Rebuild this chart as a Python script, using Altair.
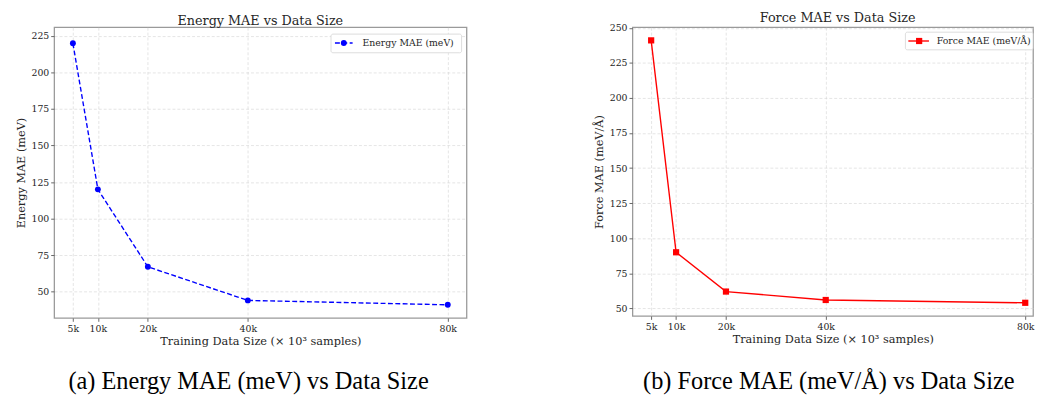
import altair as alt
import pandas as pd

# ---- data ----
sizes = [5, 10, 20, 40, 80]            # training data size (k samples)
energy_mae = [220, 120, 67, 44, 41]    # meV
force_mae = [241, 90, 62, 56, 54]      # meV/Å
x_ticks = [5, 10, 20, 40, 80]
energy_ticks = [50, 75, 100, 125, 150, 175, 200, 225]
force_ticks = [50, 75, 100, 125, 150, 175, 200, 225, 250]

energy_df = pd.DataFrame({"size": sizes, "mae": energy_mae})
force_df = pd.DataFrame({"size": sizes, "mae": force_mae})
leg_e = pd.DataFrame({"label": ["Energy MAE (meV)"]})
leg_f = pd.DataFrame({"label": ["Force MAE (meV/Å)"]})
cap_e = pd.DataFrame({"label": ["(a) Energy MAE (meV) vs Data Size"]})
cap_f = pd.DataFrame({"label": ["(b) Force MAE (meV/Å) vs Data Size"]})
ttl_e = pd.DataFrame({"label": ["Energy MAE vs Data Size"]})
ttl_f = pd.DataFrame({"label": ["Force MAE vs Data Size"]})

FONT = "DejaVu Serif"
CAP_FONT = "Liberation Serif"
TXT = "#262626"
BLUE = "#0000ff"
RED = "#ff0000"
XTITLE = "Training Data Size (× 10³ samples)"


def x_enc(dmax):
    return alt.X(
        "size:Q",
        scale=alt.Scale(domain=[1.25, dmax], nice=False, zero=False),
        axis=alt.Axis(values=x_ticks, labelExpr="datum.value + 'k'", title=XTITLE),
    )


def y_enc(domain, ticks, title):
    return alt.Y(
        "mae:Q",
        scale=alt.Scale(domain=domain, nice=False, zero=False),
        axis=alt.Axis(values=ticks, title=title),
    )


def legend_layers(df, color, dash, shape, size, box, line, mk, tx):
    b = alt.Chart(df).mark_rect(
        fill="white", stroke="#d4d4d4", strokeWidth=0.8, cornerRadius=2
    ).encode(x=alt.value(box[0]), x2=alt.value(box[1]), y=alt.value(box[2]), y2=alt.value(box[3]))
    rule_kw = dict(color=color, strokeWidth=1.4)
    if dash:
        rule_kw["strokeDash"] = dash
    s = alt.Chart(df).mark_rule(**rule_kw).encode(
        x=alt.value(line[0]), x2=alt.value(line[1]), y=alt.value(line[2])
    )
    m = alt.Chart(df).mark_point(filled=True, shape=shape, size=size, color=color, opacity=1).encode(
        x=alt.value(mk), y=alt.value(line[2])
    )
    t = alt.Chart(df).mark_text(
        align="left", baseline="middle", font=FONT, fontSize=9.5, color=TXT
    ).encode(x=alt.value(tx), y=alt.value(line[2] + 0.5), text="label:N")
    return [b, s, m, t]


def caption(df, xc, yb):
    return alt.Chart(df).mark_text(
        align="center", baseline="alphabetic", font=CAP_FONT, fontSize=24.8, color="#000000"
    ).encode(x=alt.value(xc), y=alt.value(yb), text="label:N")


def title_text(df, xc, yc):
    return alt.Chart(df).mark_text(
        align="center", baseline="middle", font=FONT, fontSize=13, color=TXT
    ).encode(x=alt.value(xc), y=alt.value(yc), text="label:N")


# ---- left panel ----
W1, H1 = 420, 296
xe = x_enc(83.75)
ye = y_enc([32.05, 230.96], energy_ticks, "Energy MAE (meV)")
e_line = alt.Chart(energy_df).mark_line(color=BLUE, strokeWidth=1.4, strokeDash=[5, 2.5]).encode(x=xe, y=ye)
e_pts = alt.Chart(energy_df).mark_point(filled=True, shape="circle", size=36, color=BLUE, opacity=1).encode(x=xe, y=ye)
left = alt.layer(
    e_line, e_pts,
    *legend_layers(leg_e, BLUE, [5, 2.5], "circle", 36, (282, 415, 7, 26), (286, 304, 16), 295, 314),
    title_text(ttl_e, 210, -6),
    caption(cap_e, 198, 368),
).properties(width=W1, height=H1)

# ---- right panel (reaches the right edge like the reference) ----
W2, H2 = 408, 294
xf = x_enc(1.25 + 408 / 5.08)
yf = y_enc([44.65, 250.35], force_ticks, "Force MAE (meV/Å)")
f_line = alt.Chart(force_df).mark_line(color=RED, strokeWidth=1.4).encode(x=xf, y=yf)
f_pts = alt.Chart(force_df).mark_point(filled=True, shape="square", size=40, color=RED, opacity=1).encode(x=xf, y=yf)
right = alt.layer(
    f_line, f_pts,
    *legend_layers(leg_f, RED, None, "square", 40, (278, 408, 5, 23), (281, 302, 14), 292, 310),
    title_text(ttl_f, 209, -9),
    caption(cap_f, 200, 368),
).properties(width=W2, height=H2)

chart = alt.hconcat(left, right, spacing=127).properties(
    padding={"left": 6, "top": 0, "right": 0, "bottom": 0}
).configure_view(
    stroke="#9a9a9a", strokeWidth=1.3
).configure_axis(
    domain=False,
    grid=True,
    gridColor="#d3d3d3",
    gridDash=[3, 2],
    gridWidth=0.6,
    ticks=True,
    tickColor="#666666",
    tickSize=3.5,
    labelFont=FONT,
    labelFontSize=9.5,
    labelColor=TXT,
    labelPadding=2,
    titleFont=FONT,
    titleFontSize=11.5,
    titleFontWeight="normal",
    titleColor=TXT,
).configure_axisX(titlePadding=3).configure_axisY(titlePadding=5)

chart.save("out.html", embed_options={"renderer": "svg", "actions": False})
